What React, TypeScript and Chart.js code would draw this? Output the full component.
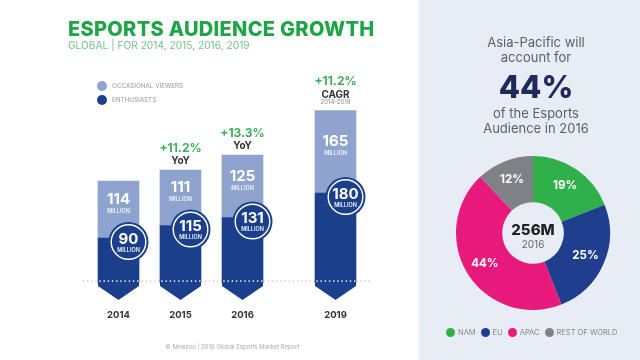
import React, { useEffect, useRef } from "react";
import { Chart, registerables } from "chart.js";

Chart.register(...registerables);

// ---------- data ----------
const years = ["2014", "2015", "2016", "2019"];
const yearSlots = [0, 1, 2, 3.5]; // position along the (compressed) time axis
const enthusiasts = [90, 115, 131, 180];
const occasional = [114, 111, 125, 165];
const growthValues = ["", "+11.2%", "+13.3%", "+11.2%"];
const growthKinds = ["", "YoY", "YoY", "CAGR"];
const growthNotes = ["", "", "", "2014-2019"];
const unitLabel = "MILLION";

const regions = ["NAM", "EU", "APAC", "REST OF WORLD"];
const regionShares = [19, 25, 44, 12];
const totalAudience = "256M";
const totalYear = "2016";

// ---------- styles ----------
const DARK = "#1c3f8b";
const LIGHT = "#8ea4cf";
const GREEN = "#1fa548";
const FONT = "Inter, 'Open Sans', sans-serif";
const regionColors = ["#2fb04a", "#1f3e8e", "#e8197c", "#808186"];
const PANEL = "#e7ecf5";

function txt(ctx: CanvasRenderingContext2D, s: string, x: number, y: number, font: string, color: string, align: CanvasTextAlign = "center") {
  ctx.font = font;
  ctx.fillStyle = color;
  ctx.textAlign = align;
  ctx.textBaseline = "middle";
  ctx.fillText(s, x, y);
}

const barDecor = {
  id: "barDecor",
  beforeDatasetsDraw(chart: any) {
    const { ctx, chartArea } = chart;
    const base = chart.scales.y.getPixelForValue(0);
    ctx.save();
    ctx.strokeStyle = "#c5c8cf";
    ctx.lineWidth = 1.7;
    ctx.lineCap = "round";
    ctx.setLineDash([0, 4.2]);
    ctx.beginPath();
    ctx.moveTo(chartArea.left + 27, base - 2);
    ctx.lineTo(chartArea.right - 27, base - 2);
    ctx.stroke();
    ctx.restore();
  },
  afterDatasetsDraw(chart: any) {
    const { ctx } = chart;
    const m0 = chart.getDatasetMeta(0);
    const m1 = chart.getDatasetMeta(1);
    ctx.save();
    m0.data.forEach((bar: any, i: number) => {
      const { x, y, base, width } = bar.getProps(["x", "y", "base", "width"], true);
      const top = m1.data[i].y;
      const L = x - width / 2;
      const R = x + width / 2;
      // arrow point
      ctx.fillStyle = DARK;
      ctx.beginPath();
      ctx.moveTo(L, base - 1);
      ctx.lineTo(R, base - 1);
      ctx.lineTo(R, base + 3);
      ctx.lineTo(x, base + 17);
      ctx.lineTo(L, base + 3);
      ctx.closePath();
      ctx.fill();
      // white dots over the bar
      ctx.save();
      ctx.strokeStyle = "#ffffff";
      ctx.lineWidth = 1.7;
      ctx.lineCap = "round";
      ctx.setLineDash([0, 4.2]);
      ctx.beginPath();
      ctx.moveTo(L + 2, base - 2);
      ctx.lineTo(R - 1, base - 2);
      ctx.stroke();
      ctx.restore();
      // occasional label
      const mid = (top + y - 20) / 2;
      txt(ctx, String(occasional[i]), x, mid, `700 15px ${FONT}`, "#ffffff");
      txt(ctx, unitLabel, x, mid + 12, `600 5.5px ${FONT}`, "#eef2fa");
      // enthusiasts badge
      const cx = x + 10;
      const cy = y + 4;
      ctx.fillStyle = DARK;
      ctx.beginPath();
      ctx.arc(cx, cy, 20, 0, Math.PI * 2);
      ctx.fill();
      ctx.strokeStyle = "#ffffff";
      ctx.lineWidth = 1.4;
      ctx.beginPath();
      ctx.arc(cx, cy, 17.3, 0, Math.PI * 2);
      ctx.stroke();
      txt(ctx, String(enthusiasts[i]), cx, cy - 3, `700 15px ${FONT}`, "#ffffff");
      txt(ctx, unitLabel, cx, cy + 8, `600 5.5px ${FONT}`, "#eef2fa");
      // growth annotation
      if (growthValues[i]) {
        const shift = growthNotes[i] ? 7 : 0;
        txt(ctx, growthValues[i], x, top - 22 - shift, `700 12px ${FONT}`, "#3cb05a");
        txt(ctx, growthKinds[i], x, top - 9 - shift, `700 10px ${FONT}`, "#333333");
        if (growthNotes[i]) txt(ctx, growthNotes[i], x, top - 8, `400 6px ${FONT}`, "#888888");
      }
      // year label
      txt(ctx, years[i], x, base + 32, `700 9.5px ${FONT}`, "#333333");
    });
    // legend
    const items = [chart.data.datasets[1], chart.data.datasets[0]];
    items.forEach((ds: any, k: number) => {
      const ly = 86 + k * 14;
      ctx.fillStyle = ds.backgroundColor;
      ctx.beginPath();
      ctx.arc(102, ly, 5, 0, Math.PI * 2);
      ctx.fill();
      txt(ctx, ds.label.toUpperCase(), 112, ly, `400 6.3px ${FONT}`, "#999999", "left");
    });
    ctx.restore();
  },
};

const donutDecor = {
  id: "donutDecor",
  afterDatasetsDraw(chart: any) {
    const { ctx } = chart;
    const meta = chart.getDatasetMeta(0);
    ctx.save();
    meta.data.forEach((arc: any, i: number) => {
      const p = arc.getProps(["x", "y", "startAngle", "endAngle", "innerRadius", "outerRadius"], true);
      const a = (p.startAngle + p.endAngle) / 2;
      const r = p.innerRadius + (p.outerRadius - p.innerRadius) * 0.57;
      txt(ctx, `${regionShares[i]}%`, p.x + Math.cos(a) * r, p.y + Math.sin(a) * r, `700 11.5px ${FONT}`, "#ffffff");
    });
    const c = meta.data[0];
    txt(ctx, totalAudience, c.x, c.y - 3, `800 15px ${FONT}`, "#222222");
    txt(ctx, totalYear, c.x, c.y + 12, `400 10px ${FONT}`, "#666666");
    ctx.restore();
  },
};

export default function App() {
  const barRef = useRef<HTMLCanvasElement>(null);
  const donutRef = useRef<HTMLCanvasElement>(null);

  useEffect(() => {
    const bar = new Chart(barRef.current!, {
      type: "bar",
      data: {
        datasets: [
          {
            label: "Enthusiasts",
            data: yearSlots.map((x, i) => ({ x, y: enthusiasts[i] })),
            backgroundColor: DARK,
            barThickness: 41,
            borderWidth: 0,
          },
          {
            label: "Occasional viewers",
            data: yearSlots.map((x, i) => ({ x, y: occasional[i] })),
            backgroundColor: LIGHT,
            barThickness: 41,
            borderWidth: 0,
          },
        ],
      },
      options: {
        responsive: false,
        animation: false,
        layout: { padding: { left: 56.5, right: 22.5, top: 73, bottom: 77 } },
        scales: {
          x: { type: "linear", min: -1, max: 4.5, offset: false, stacked: true, display: false },
          y: { min: 0, max: 420, stacked: true, display: false },
        },
        plugins: { legend: { display: false }, tooltip: { enabled: false } },
      },
      plugins: [barDecor],
    } as any);

    const donut = new Chart(donutRef.current!, {
      type: "doughnut",
      data: {
        labels: regions,
        datasets: [{ data: regionShares, backgroundColor: regionColors, borderWidth: 0 }],
      },
      options: {
        responsive: false,
        animation: false,
        cutout: "40%",
        layout: { padding: { left: 36, right: 30, top: 6, bottom: 15 } },
        plugins: { legend: { display: false }, tooltip: { enabled: false } },
      },
      plugins: [donutDecor],
    } as any);

    return () => {
      bar.destroy();
      donut.destroy();
    };
  }, []);

  const abs = (s: React.CSSProperties): React.CSSProperties => ({ position: "absolute", ...s });
  const line = (top: number, size: number, text: string, extra: React.CSSProperties = {}) => (
    <div style={abs({ left: 420, width: 232, top, textAlign: "center", fontSize: size, lineHeight: `${size}px`, color: "#5a5f6b", whiteSpace: "nowrap", ...extra })}>{text}</div>
  );

  return (
    <div style={{ position: "fixed", left: 0, top: 0, width: 640, height: 360, overflow: "hidden", background: "#ffffff", fontFamily: FONT }}>
      <div style={abs({ left: 418, top: 0, width: 222, height: 360, background: PANEL })} />
      <div style={abs({ left: 418, top: 0, width: 2, height: 360, background: "#f0f3f8" })} />
      <canvas ref={barRef} width={420} height={360} style={abs({ left: 0, top: 0 })} />
      <div style={abs({ left: 68, top: 18.5, fontSize: 20, lineHeight: "20px", fontWeight: 800, letterSpacing: 0.3, color: GREEN, whiteSpace: "nowrap" })}>ESPORTS AUDIENCE GROWTH</div>
      <div style={abs({ left: 68, top: 40, fontSize: 10.2, lineHeight: "10px", fontWeight: 400, color: "#74c488", whiteSpace: "nowrap" })}>GLOBAL | FOR 2014, 2015, 2016, 2019</div>
      <div style={abs({ left: 0, width: 465, top: 344, textAlign: "center", fontSize: 6, lineHeight: "6px", color: "#aaaaaa", whiteSpace: "nowrap" })}>© Newzoo | 2016 Global Esports Market Report</div>
      {line(36, 13, "Asia-Pacific will")}
      {line(51, 13, "account for")}
      {line(70.5, 31, "44%", { fontWeight: 800, color: "#1f2a5c" })}
      {line(107, 13, "of the Esports")}
      {line(122, 13, "Audience in 2016")}
      <canvas ref={donutRef} width={220} height={175} style={abs({ left: 420, top: 150 })} />
      <div style={abs({ left: 446, top: 328, display: "flex", alignItems: "center", gap: 5, whiteSpace: "nowrap" })}>
        {regions.map((r, i) => (
          <div key={r} style={{ display: "flex", alignItems: "center", gap: 3 }}>
            <span style={{ width: 9, height: 9, borderRadius: "50%", background: regionColors[i], display: "inline-block" }} />
            <span style={{ fontSize: 7.5, lineHeight: "9px", color: "#888888" }}>{r}</span>
          </div>
        ))}
      </div>
    </div>
  );
}
